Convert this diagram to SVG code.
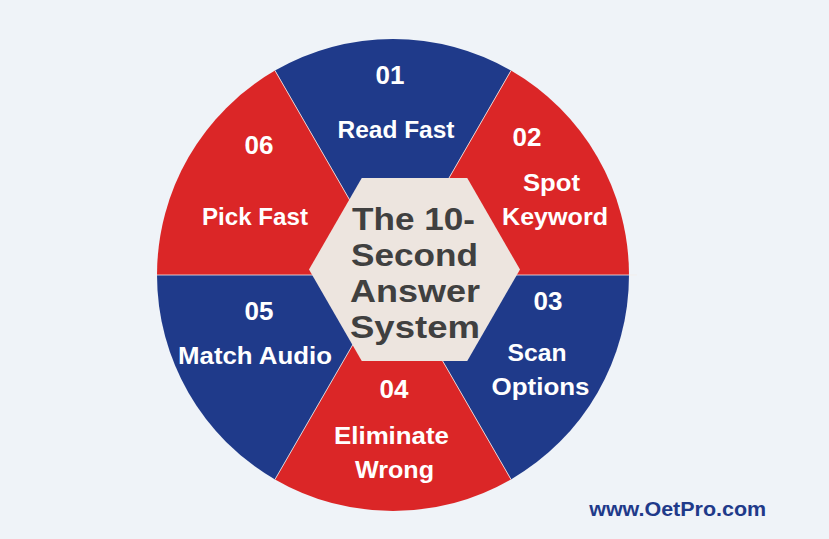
<svg xmlns="http://www.w3.org/2000/svg" width="829" height="539" viewBox="0 0 829 539">
<style>
.blue{fill:#1f3a8a}
.red{fill:#db2627}
.num{font-family:"Liberation Sans",Arial,sans-serif;font-weight:bold;font-size:26px;fill:#ffffff;text-anchor:middle}
.lbl{font-family:"Liberation Sans",Arial,sans-serif;font-weight:bold;font-size:24px;fill:#ffffff;text-anchor:middle}
.title{font-family:"Liberation Sans",Arial,sans-serif;font-weight:bold;font-size:32px;fill:#404040;text-anchor:middle}
.sep{stroke:#f4ece8;stroke-width:1;opacity:0.8;fill:none}
</style>
<rect width="829" height="539" fill="#eff3f8"/>
<g id="seg01">
<path class="blue" d="M393,275 L511,70.62 A236,236 0 0 0 275,70.62 Z"/>
<text class="num" x="390" y="84">01</text>
<text class="lbl" x="396" y="138" textLength="117" lengthAdjust="spacingAndGlyphs">Read Fast</text>
</g>
<g id="seg02">
<path class="red" d="M393,275 L629,275 A236,236 0 0 0 511,70.62 Z"/>
<text class="num" x="527" y="146">02</text>
<text class="lbl" x="551.5" y="191" textLength="57" lengthAdjust="spacingAndGlyphs">Spot</text>
<text class="lbl" x="555" y="225" textLength="106" lengthAdjust="spacingAndGlyphs">Keyword</text>
</g>
<g id="seg03">
<path class="blue" d="M393,275 L511,479.38 A236,236 0 0 0 629,275 Z"/>
<text class="num" x="548" y="310">03</text>
<text class="lbl" x="537" y="361" textLength="59" lengthAdjust="spacingAndGlyphs">Scan</text>
<text class="lbl" x="540.5" y="395" textLength="98" lengthAdjust="spacingAndGlyphs">Options</text>
</g>
<g id="seg04">
<path class="red" d="M393,275 L275,479.38 A236,236 0 0 0 511,479.38 Z"/>
<text class="num" x="394" y="398">04</text>
<text class="lbl" x="391.5" y="444" textLength="115" lengthAdjust="spacingAndGlyphs">Eliminate</text>
<text class="lbl" x="394.5" y="478" textLength="79" lengthAdjust="spacingAndGlyphs">Wrong</text>
</g>
<g id="seg05">
<path class="blue" d="M393,275 L157,275 A236,236 0 0 0 275,479.38 Z"/>
<text class="num" x="259" y="320">05</text>
<text class="lbl" x="255" y="364" textLength="154" lengthAdjust="spacingAndGlyphs">Match Audio</text>
</g>
<g id="seg06">
<path class="red" d="M393,275 L275,70.62 A236,236 0 0 0 157,275 Z"/>
<text class="num" x="259" y="154">06</text>
<text class="lbl" x="255" y="225" textLength="106" lengthAdjust="spacingAndGlyphs">Pick Fast</text>
</g>
<g id="connectors">
<line class="sep" x1="393" y1="275" x2="511" y2="70.62"/>
<line class="sep" x1="393" y1="275" x2="275" y2="70.62"/>
<line class="sep" x1="157" y1="275" x2="637" y2="275"/>
<line class="sep" x1="393" y1="275" x2="275" y2="479.38"/>
<line class="sep" x1="393" y1="275" x2="511" y2="479.38"/>
</g>
<g id="center">
<polygon points="309,269.5 361.75,178.1 467.25,178.1 520,269.5 467.25,360.9 361.75,360.9" fill="#ede5df"/>
<text class="title" x="413.5" y="230" textLength="123" lengthAdjust="spacingAndGlyphs">The 10-</text>
<text class="title" x="414.5" y="266" textLength="127" lengthAdjust="spacingAndGlyphs">Second</text>
<text class="title" x="415" y="302" textLength="130" lengthAdjust="spacingAndGlyphs">Answer</text>
<text class="title" x="415" y="338" textLength="130" lengthAdjust="spacingAndGlyphs">System</text>
</g>
<g id="footer">
<text x="677.7" y="516" font-family="'Liberation Sans',Arial,sans-serif" font-weight="bold" font-size="20" fill="#1f3a8a" text-anchor="middle" textLength="177" lengthAdjust="spacingAndGlyphs">www.OetPro.com</text>
</g>
</svg>
